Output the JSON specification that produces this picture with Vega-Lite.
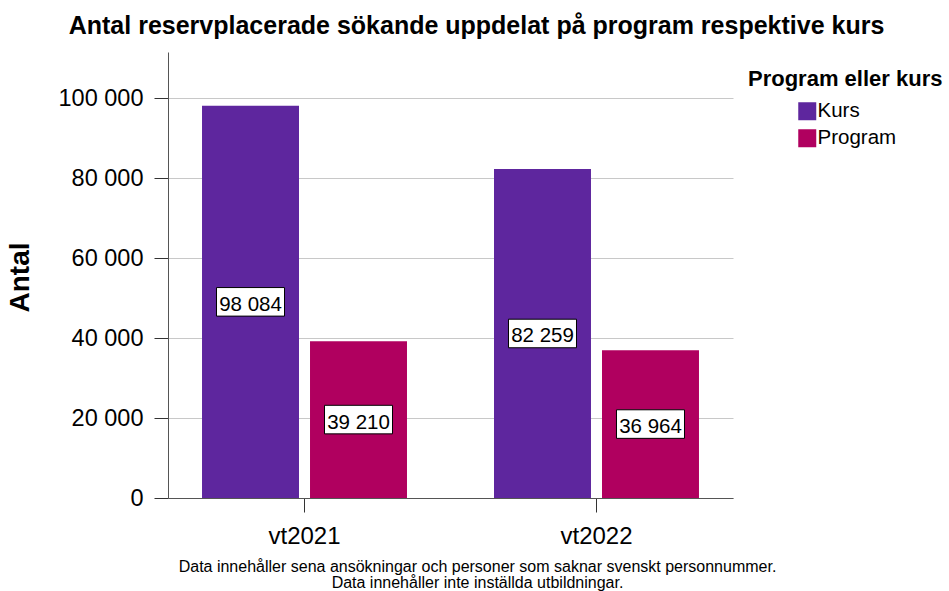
{
  "$schema": "https://vega.github.io/schema/vega-lite/v6.json",
  "width": 565,
  "height": 446,
  "autosize": {"type": "none"},
  "padding": {"left": 168, "top": 52, "right": 216, "bottom": 93},
  "background": "white",
  "config": {
    "font": "Liberation Sans",
    "view": {"stroke": null},
    "locale": {"number": {"decimal": ",", "thousands": " ", "grouping": [3], "currency": ["", " kr"]}}
  },
  "title": {
    "text": "Antal reservplacerade sökande uppdelat på program respektive kurs",
    "fontSize": 25,
    "fontWeight": "bold",
    "color": "#000000",
    "anchor": "middle",
    "dx": 26,
    "offset": 13
  },
  "data": {
    "values": [
      {"period": "vt2021", "typ": "Kurs", "antal": 98084},
      {"period": "vt2021", "typ": "Program", "antal": 39210},
      {"period": "vt2022", "typ": "Kurs", "antal": 82259},
      {"period": "vt2022", "typ": "Program", "antal": 36964}
    ]
  },
  "encoding": {
    "x": {
      "field": "period",
      "type": "nominal",
      "scale": {"paddingInner": 0.298, "paddingOuter": 0.1165},
      "axis": {
        "labelAngle": 0,
        "labelFontSize": 24,
        "labelColor": "#000000",
        "labelPadding": 12,
        "tickSize": 14,
        "tickColor": "#333333",
        "domainColor": "#555555",
        "title": ["Data innehåller sena ansökningar och personer som saknar svenskt personnummer.", "Data innehåller inte inställda utbildningar."],
        "titleFontSize": 16,
        "titleFontWeight": "normal",
        "titleColor": "#000000",
        "titleLineHeight": 16,
        "titleAlign": "center",
        "titleBaseline": "top",
        "titleX": 309,
        "titleY": 60
      }
    },
    "xOffset": {
      "field": "typ",
      "type": "nominal",
      "scale": {"paddingInner": 0.102, "paddingOuter": 0}
    }
  },
  "layer": [
    {
      "mark": {"type": "bar"},
      "encoding": {
        "y": {
          "field": "antal",
          "type": "quantitative",
          "scale": {"domain": [0, 111500], "nice": false},
          "axis": {
            "values": [0, 20000, 40000, 60000, 80000, 100000],
            "labelExpr": "replace(format(datum.value, ','), ',', ' ')",
            "labelFontSize": 23.5,
            "labelColor": "#000000",
            "labelPadding": 11,
            "tickSize": 14,
            "tickColor": "#333333",
            "domainColor": "#555555",
            "gridColor": "#c8c8c8",
            "title": "Antal",
            "titleFontSize": 28,
            "titleFontWeight": "bold",
            "titleColor": "#000000",
            "titleBaseline": "middle",
            "titleAlign": "center",
            "titleX": -148,
            "titleY": 225
          }
        },
        "color": {
          "field": "typ",
          "type": "nominal",
          "scale": {"domain": ["Kurs", "Program"], "range": ["#5e269e", "#b0005f"]},
          "legend": {
            "title": "Program eller kurs",
            "orient": "none",
            "legendX": 580,
            "legendY": 17,
            "titleFontSize": 22,
            "titleFontWeight": "bold",
            "titleColor": "#000000",
            "titleLimit": 400,
            "titlePadding": 10,
            "labelFontSize": 20.5,
            "labelColor": "#000000",
            "labelLimit": 300,
            "symbolType": "square",
            "symbolSize": 324,
            "symbolStrokeWidth": 0,
            "symbolOpacity": 1,
            "symbolOffset": 49,
            "labelOffset": 0,
            "rowPadding": 6
          }
        }
      }
    },
    {
      "mark": {
        "type": "point",
        "shape": "M-1,-0.42 L1,-0.42 L1,0.42 L-1,0.42 Z",
        "size": 4624,
        "filled": true,
        "fill": "#ffffff",
        "stroke": "#000000",
        "strokeWidth": 1,
        "opacity": 1,
        "dy": 2
      },
      "encoding": {
        "y": {
          "field": "antal",
          "type": "quantitative",
          "scale": {"domain": [0, 223000], "nice": false},
          "axis": null
        }
      }
    },
    {
      "mark": {
        "type": "text",
        "fontSize": 20.5,
        "color": "#000000",
        "baseline": "middle",
        "align": "center",
        "dy": 3
      },
      "encoding": {
        "y": {
          "field": "antal",
          "type": "quantitative",
          "scale": {"domain": [0, 223000], "nice": false},
          "axis": null
        },
        "text": {"field": "antal", "type": "quantitative", "format": ","}
      }
    }
  ],
  "resolve": {"scale": {"y": "independent"}}
}
